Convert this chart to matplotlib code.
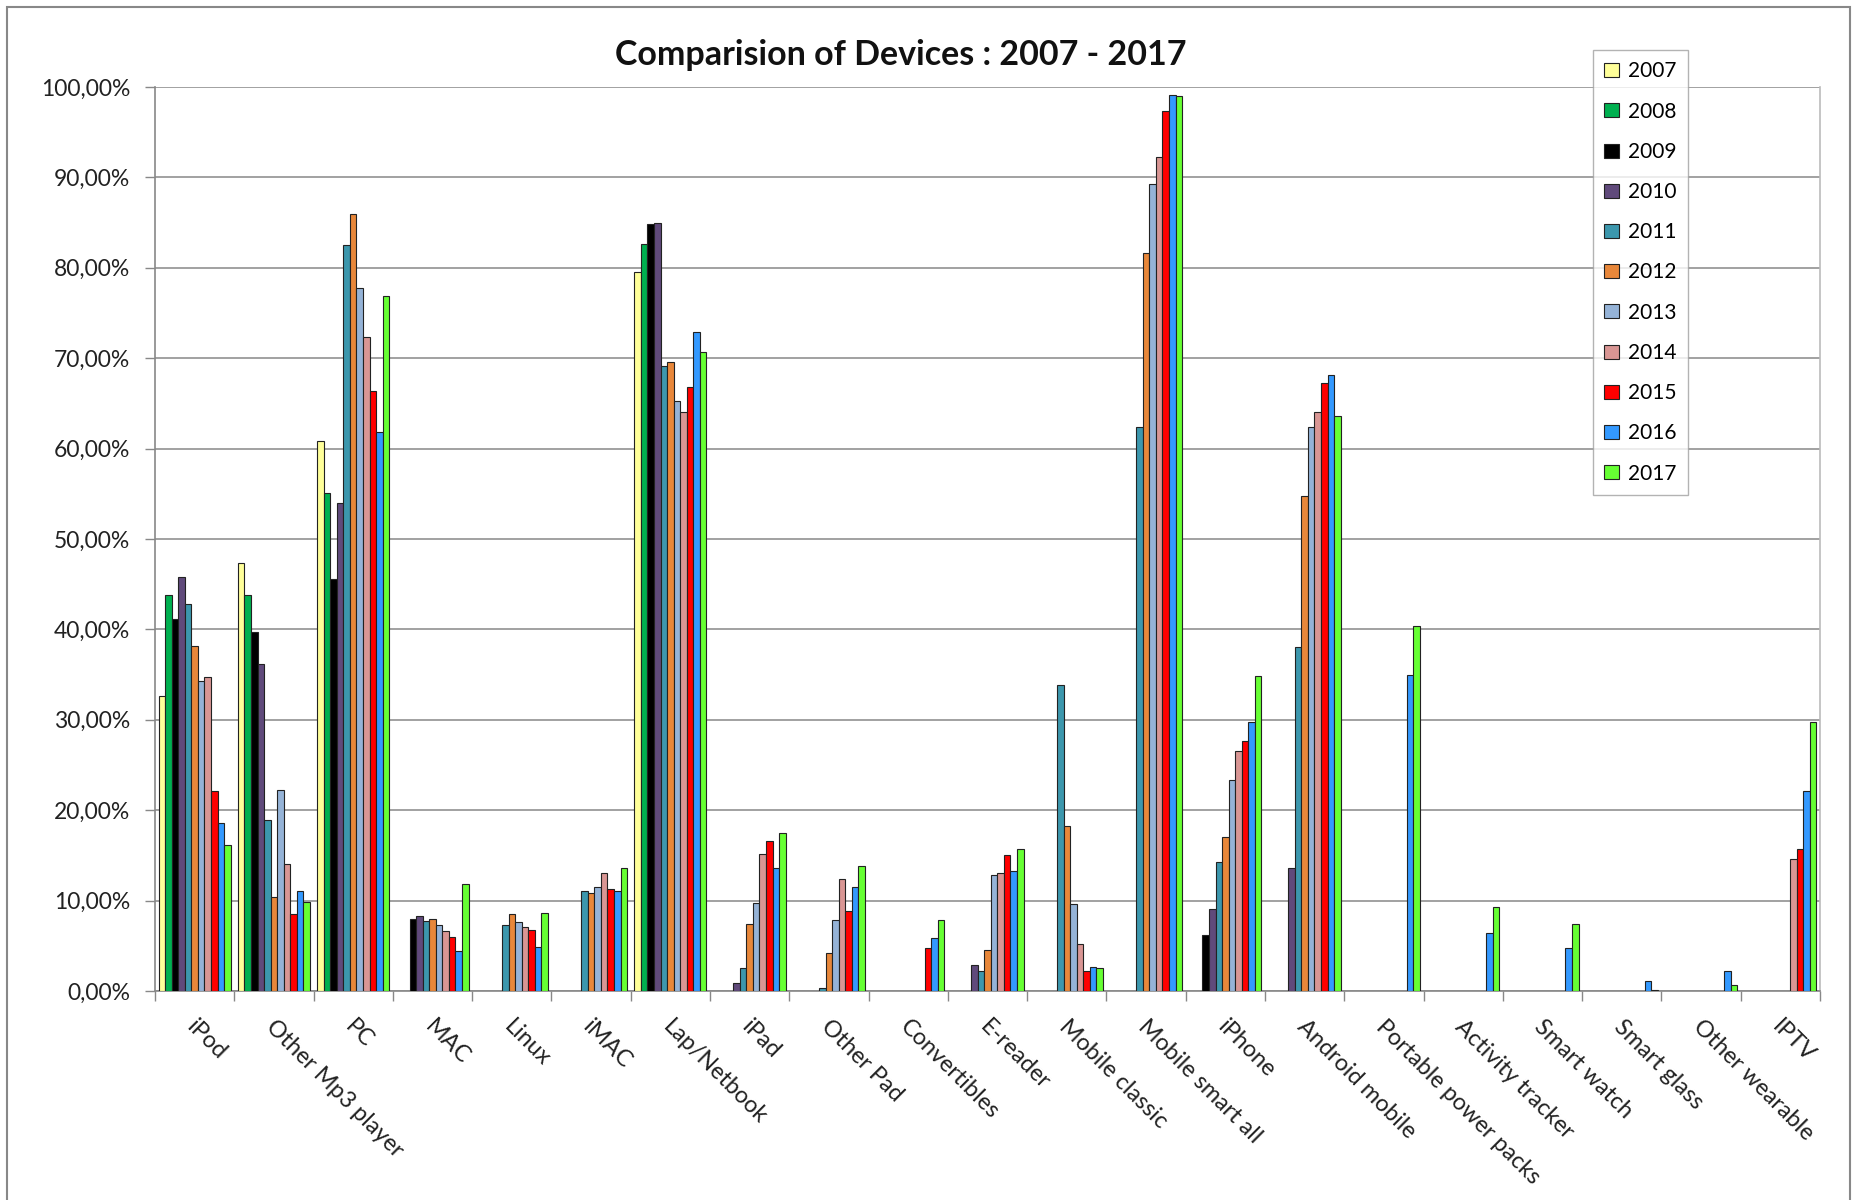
import numpy as np
import matplotlib
matplotlib.use("Agg")
import matplotlib.pyplot as plt
from matplotlib.patches import Patch, Rectangle
from matplotlib.transforms import ScaledTranslation
from matplotlib.ticker import FuncFormatter, FixedLocator

N = np.nan

categories = ["iPod", "Other Mp3 player", "PC", "MAC", "Linux", "iMAC", "Lap/Netbook",
              "iPad", "Other Pad", "Convertibles", "E-reader", "Mobile classic",
              "Mobile smart all", "iPhone", "Android mobile", "Portable power packs",
              "Activity tracker", "Smart watch", "Smart glass", "Other wearable", "IPTV"]

years = ["2007", "2008", "2009", "2010", "2011", "2012", "2013", "2014", "2015", "2016", "2017"]

v2007 = [32.6, 47.4, 60.8, N, N, N, 79.5, N, N, N, N, N, N, N, N, N, N, N, N, N, N]
v2008 = [43.8, 43.8, 55.1, N, N, N, 82.6, N, N, N, N, N, N, N, N, N, N, N, N, N, N]
v2009 = [41.1, 39.7, 45.6, 8.0, N, N, 84.8, N, N, N, N, N, N, 6.2, N, N, N, N, N, N, N]
v2010 = [45.8, 36.2, 54.0, 8.25, N, N, 85.0, 0.9, N, N, 2.9, N, N, 9.1, 13.6, N, N, N, N, N, N]
v2011 = [42.8, 18.9, 82.5, 7.7, 7.3, 11.1, 69.1, 2.5, 0.3, N, 2.2, 33.8, 62.4, 14.3, 38.1, N, N, N, N, N, N]
v2012 = [38.2, 10.4, 86.0, 8.0, 8.5, 10.8, 69.6, 7.4, 4.2, N, 4.5, 18.3, 81.6, 17.0, 54.8, N, N, N, N, N, N]
v2013 = [34.3, 22.2, 77.8, 7.3, 7.6, 11.5, 65.3, 9.7, 7.8, N, 12.8, 9.6, 89.3, 23.3, 62.4, N, N, N, N, N, N]
v2014 = [34.7, 14.1, 72.4, 6.6, 7.1, 13.1, 64.1, 15.1, 12.4, N, 13.1, 5.2, 92.3, 26.5, 64.1, N, N, N, N, N, 14.6]
v2015 = [22.1, 8.5, 66.4, 6.0, 6.7, 11.3, 66.8, 16.6, 8.9, 4.8, 15.0, 2.2, 97.3, 27.6, 67.3, N, N, N, N, N, 15.7]
v2016 = [18.6, 11.1, 61.8, 4.4, 4.9, 11.1, 72.9, 13.6, 11.5, 5.9, 13.3, 2.7, 99.1, 29.8, 68.1, 35.0, 6.4, 4.8, 1.1, 2.2, 22.1]
v2017 = [16.2, 9.8, 76.9, 11.8, 8.6, 13.6, 70.7, 17.5, 13.8, 7.9, 15.7, 2.5, 99.0, 34.9, 63.6, 40.4, 9.3, 7.4, 0.1, 0.7, 29.8]

series = [v2007, v2008, v2009, v2010, v2011, v2012, v2013, v2014, v2015, v2016, v2017]
colors = ["#FFFF99", "#00B050", "#000000", "#604A7B", "#3C97AD", "#E8873A",
          "#95B3D7", "#D99694", "#FF0000", "#3399FF", "#66FF33"]

yticks = [0, 10, 20, 30, 40, 50, 60, 70, 80, 90, 100]

FONT = "Lato"
W, H = 1853, 1200
fig = plt.figure(figsize=(W / 100, H / 100), dpi=100)
L, R, T, B = 155, 1820, 87, 991
ax = fig.add_axes([L / W, 1 - B / H, (R - L) / W, (B - T) / H])

n = len(series)
bw = 1.0 / 12.1
x = np.arange(len(categories))
for k, (vals, c) in enumerate(zip(series, colors)):
    v = np.array(vals, dtype=float)
    m = ~np.isnan(v)
    xs = x[m] + (k - (n - 1) / 2) * bw
    ax.bar(xs, v[m] / 100.0, width=bw, color=c, edgecolor="#222222", linewidth=0.8,
           zorder=3, label=years[k])

ax.set_xlim(-0.5, len(categories) - 0.5)
ax.set_ylim(0, 1)
ax.yaxis.set_major_locator(FixedLocator([t / 100 for t in yticks]))
ax.yaxis.set_major_formatter(FuncFormatter(lambda v, p: f"{v*100:.2f}%".replace(".", ",")))
ax.grid(axis="y", color="#9a9a9a", linewidth=1.3, zorder=0)
ax.tick_params(axis="y", direction="out", length=7, width=1, color="#888888",
               labelsize=16.5, pad=11, labelcolor="#222222")
for lab in ax.get_yticklabels():
    lab.set_fontfamily(FONT)

ax.set_xticks(np.arange(len(categories) + 1) - 0.5)
ax.set_xticklabels([])
ax.tick_params(axis="x", direction="out", length=7, width=1, color="#888888")

for s in ["left", "bottom", "right"]:
    ax.spines[s].set_color("#888888")
    ax.spines[s].set_linewidth(1.2)
ax.spines["right"].set_color("#bbbbbb")
ax.spines["top"].set_visible(False)

trans = ax.get_xaxis_transform() + ScaledTranslation(3 / 100, -25 / 100, fig.dpi_scale_trans)
for i, c in enumerate(categories):
    ax.text(i, 0, c, transform=trans, rotation=-45, rotation_mode="anchor",
            ha="left", va="top", fontsize=16.8, fontfamily=FONT, color="#222222")

fig.text(901 / W, 1 - 55 / H, "Comparision of Devices : 2007 - 2017", ha="center", va="center",
         fontsize=24.5, fontweight="bold", fontfamily=FONT, color="#111111")

handles = [Patch(facecolor=c, edgecolor="#222222", linewidth=0.8, label=y) for c, y in zip(colors, years)]
leg = fig.legend(handles=handles, loc="upper left", bbox_to_anchor=(1593 / W, 1 - 50 / H),
                 borderaxespad=0, frameon=True, fancybox=False,
                 prop={"family": FONT, "size": 15}, handlelength=0.7, handleheight=0.65,
                 handletextpad=0.45, labelspacing=0.97, borderpad=0.55)
leg.get_frame().set_edgecolor("#a0a0a0")
leg.get_frame().set_linewidth(1.0)

fig.patches.append(Rectangle((7 / W, -0.02), (1850 - 7) / W, 1.02 - 7 / H, transform=fig.transFigure,
                             fill=False, edgecolor="#888888", linewidth=1.5))

fig.savefig("out.png", dpi=100)
